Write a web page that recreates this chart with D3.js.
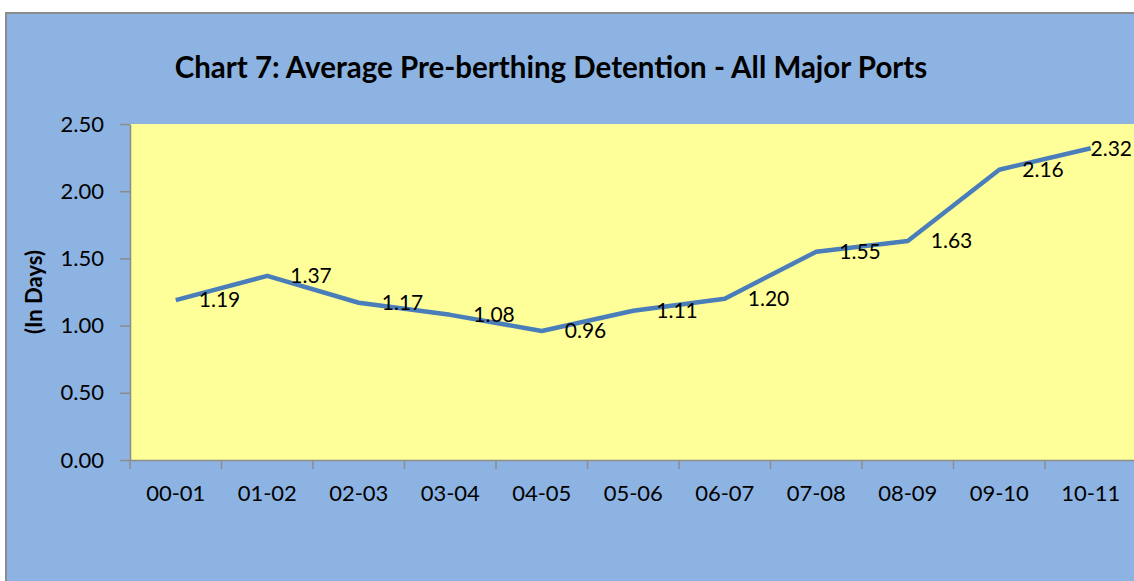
<!DOCTYPE html>
<html>
<head>
<meta charset="utf-8">
<script src="https://cdn.jsdelivr.net/npm/d3@7"></script>
<style>
  body { margin: 0; background: #fff; }
  svg { display: block; font-family: Lato, "Open Sans", sans-serif; }
</style>
</head>
<body>
<svg width="1134" height="581"></svg>
<script>
const years = ['00-01', '01-02', '02-03', '03-04', '04-05', '05-06', '06-07', '07-08', '08-09', '09-10', '10-11'];
const detention = [1.19, 1.37, 1.17, 1.08, 0.96, 1.11, 1.20, 1.55, 1.63, 2.16, 2.32];
const yTicks = [0, 0.5, 1, 1.5, 2, 2.5];

const svg = d3.select('svg');

// chart area (blue) with grey frame
svg.append('rect')
    .attr('x', 6)
    .attr('y', 13)
    .attr('width', 1140)
    .attr('height', 580)
    .attr('fill', '#8DB3E2')
    .attr('stroke', '#8c8c8c')
    .attr('stroke-width', 2)

const plot = { left: 130, top: 124, right: 1136.5, bottom: 460 };

const x = d3.scaleBand()
    .domain(years)
    .range([plot.left, plot.right])
    .padding(0)

const y = d3.scaleLinear()
    .domain([0, 2.5])
    .range([plot.bottom, plot.top])

// plot area
svg.append('rect')
    .attr('x', plot.left)
    .attr('y', plot.top)
    .attr('width', plot.right - plot.left)
    .attr('height', plot.bottom - plot.top)
    .attr('fill', '#FFFF99')

// title
svg.append('text')
    .attr('x', 551)
    .attr('y', 78)
    .attr('text-anchor', 'middle')
    .style('font-size', '29.5px')
    .style('font-weight', 'bold')
    .text('Chart 7: Average Pre-berthing Detention - All Major Ports')

// y axis
const yAxis = svg.append('g')
    .attr('transform', `translate(${plot.left},0)`)
    .call(d3.axisLeft(y).tickValues(yTicks).tickFormat(d3.format('.2f')).tickSize(10).tickSizeOuter(0).tickPadding(16))
yAxis.selectAll('line, path').attr('stroke', '#8c8c8c').attr('stroke-width', 1.5)
yAxis.selectAll('text').style('font-size', '22px').attr('fill', '#000').style('font-family', 'Lato, sans-serif')

svg.append('text')
    .attr('transform', `translate(42,${(plot.top + plot.bottom) / 2}) rotate(-90)`)
    .attr('text-anchor', 'middle')
    .style('font-size', '22px')
    .style('font-weight', 'bold')
    .text('(In Days)')

// x axis
const xAxis = svg.append('g')
    .attr('transform', `translate(0,${plot.bottom})`)
    .call(d3.axisBottom(x).tickSize(0).tickSizeOuter(0).tickPadding(25))
xAxis.select('path').attr('stroke', '#8c8c8c').attr('stroke-width', 1.5)
xAxis.selectAll('text').style('font-size', '22px').attr('fill', '#000').style('font-family', 'Lato, sans-serif')

// tick marks between categories
svg.append('g')
    .selectAll('line')
    .data(years)
    .join('line')
    .attr('x1', d => x(d))
    .attr('x2', d => x(d))
    .attr('y1', plot.bottom)
    .attr('y2', plot.bottom + 9)
    .attr('stroke', '#8c8c8c')
    .attr('stroke-width', 1.5)

// line
const pts = years.map((d, i) => [x(d) + x.bandwidth() / 2, y(detention[i])]);
svg.append('path')
    .datum(pts)
    .attr('d', d3.line())
    .attr('fill', 'none')
    .attr('stroke', '#4A7EBB')
    .attr('stroke-width', 4.5)
    .attr('stroke-linejoin', 'round')

// data labels to the right of each point, kept inside the plot area
svg.append('g')
    .selectAll('text')
    .data(pts)
    .join('text')
    .attr('x', d => Math.min(d[0] + 23, plot.right - 46))
    .attr('y', d => d[1])
    .attr('dy', '0.35em')
    .style('font-size', '21px')
    .text((d, i) => detention[i].toFixed(2))
</script>
</body>
</html>
